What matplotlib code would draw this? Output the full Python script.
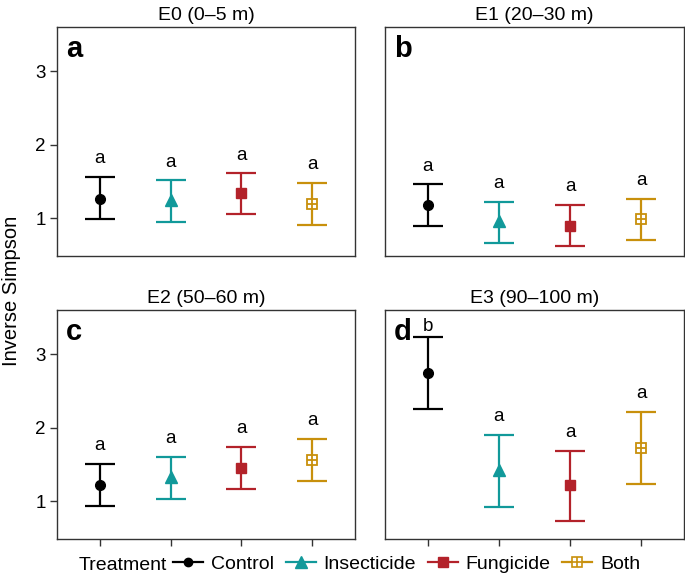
import matplotlib.pyplot as plt
from matplotlib.lines import Line2D
from matplotlib.legend_handler import HandlerTuple

plt.rcParams['font.family'] = ['Liberation Sans', 'DejaVu Sans']

""" Data """

treatments = ['Control', 'Insecticide', 'Fungicide', 'Both']
panels = ['a', 'b', 'c', 'd']
titles = ['E0 (0\u20135 m)', 'E1 (20\u201330 m)', 'E2 (50\u201360 m)', 'E3 (90\u2013100 m)']

means = [[1.27, 1.25, 1.34, 1.20],
         [1.18, 0.96, 0.90, 0.99],
         [1.22, 1.33, 1.45, 1.56],
         [2.74, 1.43, 1.22, 1.73]]
upper = [[1.56, 1.52, 1.62, 1.48],
         [1.47, 1.23, 1.18, 1.27],
         [1.51, 1.60, 1.74, 1.85],
         [3.23, 1.90, 1.69, 2.22]]
lower = [[0.99, 0.95, 1.06, 0.91],
         [0.90, 0.66, 0.62, 0.71],
         [0.94, 1.03, 1.17, 1.28],
         [2.26, 0.93, 0.73, 1.24]]
letters = [['a', 'a', 'a', 'a'],
           ['a', 'a', 'a', 'a'],
           ['a', 'a', 'a', 'a'],
           ['b', 'a', 'a', 'a']]
letter_y = [[1.75, 1.70, 1.80, 1.67],
            [1.65, 1.42, 1.37, 1.46],
            [1.70, 1.79, 1.93, 2.04],
            [3.32, 2.09, 1.88, 2.40]]

colors = ['#000000', '#11999A', '#B3222A', '#C8900C']

""" Plot """

fig = plt.figure(figsize=(6.85, 5.76), dpi=100)
W, H = 685.0, 576.0
boxes = [(57, 27, 355, 256), (385, 27, 684, 256),
         (57, 310, 355, 539), (385, 310, 684, 539)]


def draw_marker(ax, x, y, i, c):
    if i == 0:
        ax.plot(x, y, 'o', color=c, ms=7, zorder=4)
    elif i == 1:
        ax.plot(x, y, '^', color=c, ms=9, zorder=4)
    elif i == 2:
        ax.plot(x, y, 's', color=c, ms=7, zorder=4)
    else:
        ax.plot(x, y, 's', mfc='white', mec=c, mew=1.3, ms=7.5, zorder=4)
        ax.plot(x, y, '+', color=c, mew=1.3, ms=7.5, zorder=5)


for p in range(4):
    l, t, r, b = boxes[p]
    ax = fig.add_axes([l / W, 1 - b / H, (r - l) / W, (b - t) / H])
    for i in range(4):
        c = colors[i]
        x = i + 1
        ax.errorbar(x, means[p][i],
                    yerr=[[means[p][i] - lower[p][i]], [upper[p][i] - means[p][i]]],
                    fmt='none', ecolor=c, elinewidth=1.6, capsize=11, capthick=1.6, zorder=3)
        draw_marker(ax, x, means[p][i], i, c)
        ax.text(x, letter_y[p][i], letters[p][i], ha='center', va='baseline', fontsize=13.5)
    ax.set_xlim(0.4, 4.6)
    ax.set_ylim(0.49, 3.60)
    ax.set_yticks([1, 2, 3])
    if p < 2:
        ax.set_xticks([])
    else:
        ax.set_xticks([1, 2, 3, 4])
        ax.set_xticklabels([])
    for s in ax.spines.values():
        s.set_color('#333333')
        s.set_linewidth(1.0)
    ax.tick_params(direction='out', length=5, width=1.0, color='#333333', labelsize=13.5, pad=3)
    if p % 2 == 1:
        ax.set_yticklabels([])
        ax.tick_params(axis='y', left=False)
    ax.set_title(titles[p], fontsize=14, pad=5)
    ax.text(0.03, 0.965, panels[p], transform=ax.transAxes, fontsize=21,
            fontweight='bold', ha='left', va='top')

fig.text(12 / W, 1 - 291 / H, 'Inverse Simpson', rotation=90, ha='center', va='center', fontsize=14.5)

handles = []
for i in range(4):
    c = colors[i]
    ln = Line2D([], [], color=c, lw=1.6)
    if i == 0:
        handles.append((ln, Line2D([], [], marker='o', color=c, ls='none', ms=6)))
    elif i == 1:
        handles.append((ln, Line2D([], [], marker='^', color=c, ls='none', ms=8)))
    elif i == 2:
        handles.append((ln, Line2D([], [], marker='s', color=c, ls='none', ms=6.5)))
    else:
        handles.append((ln,
                        Line2D([], [], marker='s', mfc='white', mec=c, mew=1.2, ls='none', ms=7),
                        Line2D([], [], marker='+', color=c, mew=1.2, ls='none', ms=7)))

ly = 1 - 564 / H
fig.text(79 / W, 1 - 565.5 / H, 'Treatment', ha='left', va='center', fontsize=14)
fig.legend(handles, treatments, loc='center left', bbox_to_anchor=(173 / W, ly),
           ncol=4, frameon=False, fontsize=14, borderpad=0, borderaxespad=0,
           handler_map={tuple: HandlerTuple(ndivide=1, pad=0)},
           handlelength=1.55, handletextpad=0.4, columnspacing=0.6)

fig.savefig('out.png', dpi=100)
